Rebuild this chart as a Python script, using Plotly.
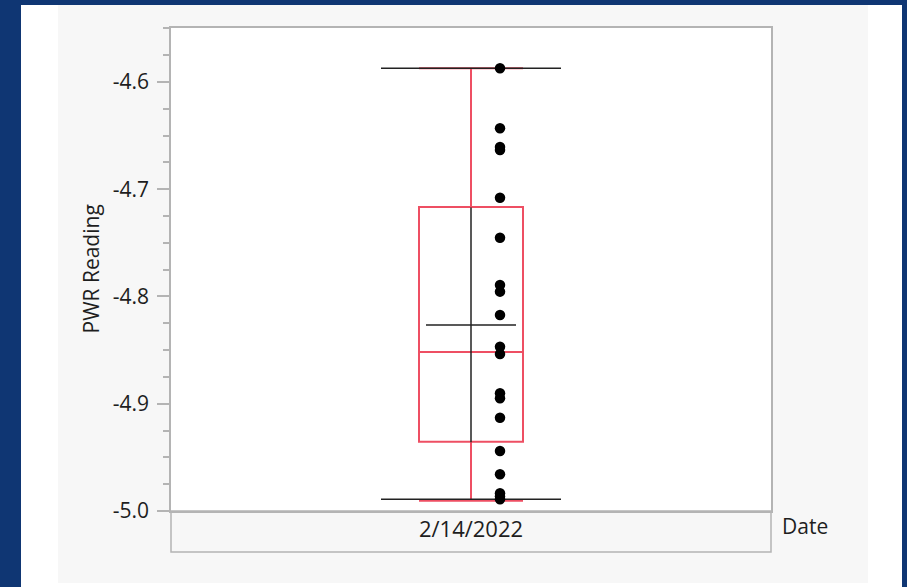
import plotly.graph_objects as go

# ---------------- data ----------------
categories = ["2/14/2022"]
pwr_readings = [-4.5872, -4.6432, -4.6606, -4.6634, -4.7079, -4.7452, -4.7893,
                -4.7955, -4.8173, -4.8468, -4.8536, -4.8903, -4.8949, -4.9130,
                -4.9441, -4.9658, -4.9835, -4.9865, -4.9891]
box_q1 = [-4.9354]
box_median = [-4.8518]
box_q3 = [-4.7166]
box_lowerfence = [-4.9904]
box_upperfence = [-4.5872]
mean_values = [-4.8265]
sd_values = [0.1095]
y_tick_vals = [-5.0, -4.9, -4.8, -4.7, -4.6]
y_tick_labels = ["-5.0", "-4.9", "-4.8", "-4.7", "-4.6"]

# ---------------- style ----------------
W, H = 907, 587
L, R, T, B = 171, 136, 28, 76
PW, PH = W - L - R, H - T - B
RED = "#ee4f63"
GRAY = "#b4b4b4"
TXT = "#1e1e1e"
BLUE = "#0f3673"
FONT = "Open Sans, Segoe UI, sans-serif"
FS = 21


def px_x(p):
    return (p - L) / PW


def px_y(p):
    return (T + PH - p) / PH


cat_pos = [0]
box_w = 104 / PW
dot_off = 29 / PW
range_half = 90 / PW
mean_half = 45 / PW

data_max = max(pwr_readings)
data_min = min(pwr_readings)

fig = go.Figure()

# range lines (black, wide)
fig.add_trace(go.Scatter(
    x=[cat_pos[0] - range_half, cat_pos[0] + range_half, None,
       cat_pos[0] - range_half, cat_pos[0] + range_half],
    y=[data_max, data_max, None, data_min, data_min],
    mode="lines", line=dict(color="#222222", width=1.5),
    hoverinfo="skip", showlegend=False))

# box plot (precomputed stats)
fig.add_trace(go.Box(
    x=cat_pos, q1=box_q1, median=box_median, q3=box_q3,
    lowerfence=box_lowerfence, upperfence=box_upperfence,
    width=box_w, whiskerwidth=1,
    line=dict(color=RED, width=2), fillcolor="rgba(0,0,0,0)",
    boxpoints=False, hoverinfo="skip", showlegend=False))

# mean +- sd vertical
fig.add_trace(go.Scatter(
    x=[cat_pos[0], cat_pos[0]],
    y=[mean_values[0] + sd_values[0], mean_values[0] - sd_values[0]],
    mode="lines", line=dict(color="#222222", width=1.5),
    hoverinfo="skip", showlegend=False))

# mean line
fig.add_trace(go.Scatter(
    x=[cat_pos[0] - mean_half, cat_pos[0] + mean_half],
    y=[mean_values[0], mean_values[0]],
    mode="lines", line=dict(color="#222222", width=1.5),
    hoverinfo="skip", showlegend=False))

# points
fig.add_trace(go.Scatter(
    x=[cat_pos[0] + dot_off] * len(pwr_readings), y=pwr_readings,
    mode="markers", marker=dict(color="black", size=10.5, line=dict(width=0)),
    hoverinfo="skip", showlegend=False))

shapes = [
    # white panel
    dict(type="rect", xref="paper", yref="paper", layer="below",
         x0=px_x(21), x1=px_x(902), y0=px_y(590), y1=px_y(5),
         fillcolor="white", line=dict(width=0)),
    # light gray panel
    dict(type="rect", xref="paper", yref="paper", layer="below",
         x0=px_x(58), x1=px_x(868), y0=px_y(583), y1=px_y(5),
         fillcolor="#f7f7f7", line=dict(width=0)),
    # white plot area
    dict(type="rect", xref="paper", yref="paper", layer="below",
         x0=0, x1=1, y0=0, y1=1,
         fillcolor="white", line=dict(width=0)),
    # x label box
    dict(type="rect", xref="paper", yref="paper", layer="above",
         x0=0, x1=1, y0=px_y(552), y1=0,
         fillcolor="rgba(0,0,0,0)", line=dict(color=GRAY, width=1.5)),
]

annotations = [
    dict(text="PWR Reading", xref="paper", yref="paper", x=px_x(90), y=0.5,
         textangle=-90, showarrow=False, xanchor="center", yanchor="middle",
         font=dict(family=FONT, size=FS, color=TXT)),
    dict(text="Date", xref="paper", yref="paper", x=px_x(780), y=px_y(526),
         showarrow=False, xanchor="left", yanchor="middle",
         font=dict(family=FONT, size=FS, color=TXT)),
]

fig.update_layout(
    width=W, height=H,
    margin=dict(l=L, r=R, t=T, b=B),
    paper_bgcolor=BLUE,
    plot_bgcolor="white",
    font=dict(family=FONT, size=FS, color=TXT),
    shapes=shapes, annotations=annotations,
    showlegend=False,
    xaxis=dict(range=[-0.5, 0.5], tickmode="array", tickvals=cat_pos,
               ticktext=categories, ticks="", showgrid=False, zeroline=False,
               showline=True, mirror=True, linecolor=GRAY, linewidth=1.5,
               ticklabelstandoff=-2,
               tickfont=dict(family=FONT, size=22, color=TXT)),
    yaxis=dict(range=[-5.0, -4.5497], tickmode="array", tickvals=y_tick_vals,
               ticktext=y_tick_labels, ticks="outside", ticklen=12,
               tickwidth=1.5, tickcolor=GRAY, showgrid=False, zeroline=False,
               showline=True, mirror=True, linecolor=GRAY, linewidth=1.5,
               ticklabelstandoff=4,
               tickfont=dict(family=FONT, size=FS, color=TXT),
               minor=dict(tickmode="linear", tick0=-5.0, dtick=0.025,
                          ticks="outside", ticklen=6, tickwidth=1.5,
                          tickcolor=GRAY, showgrid=False)),
)

fig.write_html(
    "out.html",
    config={"displayModeBar": False},
    post_script=("document.body.style.margin='0';"
                 "document.body.style.padding='0';"
                 "document.body.style.background='" + BLUE + "';"),
)
